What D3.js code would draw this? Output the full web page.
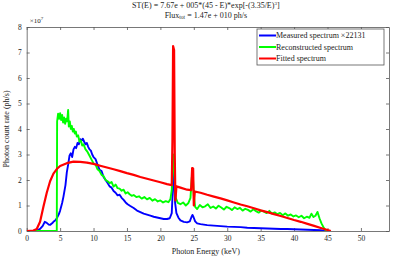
<!DOCTYPE html>
<html>
<head>
<meta charset="utf-8">
<script src="https://cdn.jsdelivr.net/npm/d3@7/dist/d3.min.js"></script>
<style>
  body { margin: 0; background: #fff; }
  svg { display: block; font-family: "Liberation Serif", "DejaVu Serif", serif; }
</style>
</head>
<body>
<div id="chart"></div>
<script>
// values are in units of 1e7 ph/s, energies in keV
var measuredE = [0.5, 1, 1.5, 2, 2.4, 2.7, 3.0, 3.3, 3.5, 3.8, 4.0, 4.3, 4.5, 4.8, 5.0, 5.3, 5.5, 5.8, 6.0, 6.2, 6.4, 6.6, 6.8, 7.0, 7.2, 7.4, 7.6, 7.8, 8.0, 8.2, 8.4, 8.6, 8.8, 9.0, 9.2, 9.4, 9.6, 9.8, 10.0, 10.3, 10.6, 10.9, 11.2, 11.5, 11.8, 12.1, 12.4, 12.7, 13.0, 13.3, 13.6, 13.9, 14.2, 14.5, 14.8, 15.1, 15.5, 16, 16.5, 17, 17.5, 18, 18.5, 19, 19.5, 20, 20.5, 21, 21.4, 21.7, 21.85, 21.95, 22.05, 22.2, 22.4, 22.7, 23, 23.5, 24, 24.4, 24.65, 24.8, 24.95, 25.2, 25.5, 26, 27, 28, 29, 30, 31, 32, 33, 34, 35, 36, 37, 38, 39, 40, 41, 42, 43, 44, 44.8];
var measuredRate = [0, 0, 0.02, 0.08, 0.2, 0.36, 0.32, 0.25, 0.24, 0.3, 0.36, 0.42, 0.5, 0.65, 0.8, 1.1, 1.35, 1.8, 2.3, 2.6, 2.95, 3.05, 2.9, 3.2, 3.3, 3.25, 3.45, 3.4, 3.6, 3.55, 3.62, 3.5, 3.4, 3.45, 3.3, 3.2, 3.15, 3.0, 2.9, 2.82, 2.6, 2.4, 2.35, 2.12, 2.0, 1.88, 1.75, 1.7, 1.57, 1.5, 1.4, 1.42, 1.3, 1.22, 1.12, 1.05, 0.98, 0.9, 0.8, 0.74, 0.68, 0.64, 0.6, 0.56, 0.53, 0.5, 0.47, 0.47, 0.5, 0.7, 1.6, 2.5, 2.3, 1.1, 0.7, 0.52, 0.42, 0.36, 0.34, 0.38, 0.55, 0.63, 0.55, 0.38, 0.3, 0.27, 0.23, 0.21, 0.19, 0.17, 0.16, 0.15, 0.13, 0.12, 0.11, 0.1, 0.09, 0.08, 0.08, 0.07, 0.06, 0.05, 0.04, 0.03, 0];

var reconE = [
    0, 4.5, 4.55, 4.7, 4.85, 5.0, 5.15, 5.3, 5.45, 5.6, 5.75, 5.9, 6.05, 6.2, 6.3, 6.45, 6.6, 6.75, 6.9, 7.05,
    7.2, 7.35, 7.5, 7.7, 7.9, 8.1, 8.3, 8.5, 8.8, 9.1, 9.4, 9.7, 10, 10.3, 10.6, 10.9, 11.2, 11.5, 11.8, 12.1,
    12.4, 12.7, 13, 13.3, 13.6, 13.9, 14.2, 14.5, 14.8, 15.1, 15.4, 15.7, 16, 16.4, 16.8, 17.2, 17.6, 18, 18.4, 18.8,
    19.2, 19.6, 20, 20.4, 20.8, 21.2, 21.5, 21.7, 21.85, 22.0, 22.15, 22.3, 22.6, 23, 23.4, 23.8, 24.2, 24.5, 24.7, 24.85,
    25, 25.2, 25.5, 25.9, 26.3, 26.7, 27.1, 27.5, 27.9, 28.3, 28.7, 29.1, 29.5, 29.9, 30.3, 30.7, 31.1, 31.5, 31.9, 32.3,
    32.7, 33.1, 33.5, 33.9, 34.3, 34.7, 35.1, 35.5, 35.9, 36.3, 36.7, 37.1, 37.5, 37.9, 38.3, 38.7, 39.1, 39.5, 39.9, 40.3,
    40.7, 41.1, 41.5, 41.9, 42.3, 42.6, 42.9, 43.2, 43.5, 43.8, 44.1, 44.5, 44.8];
var reconRate = [
    0, 0, 4.3, 4.6, 4.4, 4.62, 4.35, 4.55, 4.25, 4.45, 4.2, 4.4, 4.3, 4.75, 4.1, 4.3, 4.0, 4.12, 3.9, 4.0,
    3.82, 3.9, 3.7, 3.75, 3.5, 3.55, 3.35, 3.4, 3.2, 3.1, 2.95, 2.8, 2.65, 2.6, 2.42, 2.35, 2.2, 2.15, 2.0, 1.95,
    1.88, 1.92, 1.74, 1.82, 1.68, 1.66, 1.58, 1.62, 1.47, 1.52, 1.44, 1.38, 1.41, 1.33, 1.36, 1.27, 1.33, 1.24, 1.3, 1.19,
    1.25, 1.16, 1.2, 1.12, 1.17, 1.13, 1.25, 1.6, 2.6, 3.0, 2.0, 1.3, 1.1, 1.05, 1.12, 1.0, 1.1, 1.3, 2.1, 2.2,
    1.4, 0.95, 0.86, 1.02, 0.93, 0.97, 1.05, 0.9, 0.96, 0.88, 0.99, 0.92, 0.84, 0.95, 0.9, 0.82, 0.93, 0.86, 0.91, 0.8,
    0.87, 0.83, 0.76, 0.85, 0.78, 0.72, 0.8, 0.76, 0.7, 0.79, 0.68, 0.73, 0.66, 0.71, 0.62, 0.69, 0.6, 0.65, 0.57, 0.61,
    0.54, 0.6, 0.5, 0.56, 0.52, 0.68, 0.55, 0.6, 0.75, 0.5, 0.3, 0.1, 0];

var fittedE = [0, 1, 1.5, 2, 2.5, 3, 3.5, 4, 4.5, 5, 6, 7, 8, 9, 10, 11, 12, 13, 14, 15, 16, 17, 18, 19, 20, 21, 21.7, 21.8, 21.9, 22.05, 22.15, 22.25, 22.4, 23, 24, 24.6, 24.75, 24.9, 25.0, 25.15, 26, 27, 28, 29, 30, 31, 32, 33, 34, 35, 36, 37, 38, 39, 40, 41, 42, 43, 44, 45, 45.5];
var fittedRate = [0, 0.02, 0.08, 0.36, 0.95, 1.5, 1.95, 2.25, 2.43, 2.55, 2.66, 2.72, 2.71, 2.68, 2.63, 2.56, 2.49, 2.42, 2.35, 2.27, 2.2, 2.12, 2.05, 1.98, 1.91, 1.84, 1.8, 3.5, 7.25, 7.1, 3.0, 1.2, 1.75, 1.7, 1.62, 1.6, 2.47, 2.45, 1.0, 1.55, 1.5, 1.42, 1.35, 1.28, 1.2, 1.12, 1.04, 0.97, 0.89, 0.81, 0.74, 0.66, 0.59, 0.51, 0.43, 0.36, 0.28, 0.2, 0.12, 0.04, 0];

var xTicks = [0, 5, 10, 15, 20, 25, 30, 35, 40, 45, 50];
var yTicks = [0, 1, 2, 3, 4, 5, 6, 7, 8];
var seriesNames = ["Measured spectrum \u00d722131", "Reconstructed spectrum", "Fitted spectrum"];
var seriesColors = ["#0000ff", "#00ff00", "#ff0000"];

var width = 393, height = 259;
var margin = { top: 27, left: 26.7, bottom: 28, right: 4 };

var svg = d3.select("#chart")
    .append("svg")
    .attr("width", width)
    .attr("height", height);

var x = d3.scaleLinear().domain([0, 54.2]).range([margin.left, width - margin.right]);
var y = d3.scaleLinear().domain([0, 8]).range([height - margin.bottom, margin.top]);

// axes, MATLAB style ticks pointing inward on all sides
var tickLen = 3;
svg.append("g")
    .attr("transform", "translate(0," + y(0) + ")")
    .call(d3.axisBottom(x).tickValues(xTicks).tickSizeInner(-tickLen).tickSizeOuter(0).tickPadding(5))
    .call(styleAxis);
svg.append("g")
    .attr("transform", "translate(0," + y(8) + ")")
    .call(d3.axisTop(x).tickValues(xTicks).tickSizeInner(-tickLen).tickSizeOuter(0).tickFormat(""))
    .call(styleAxis);
svg.append("g")
    .attr("transform", "translate(" + x(0) + ",0)")
    .call(d3.axisLeft(y).tickValues(yTicks).tickSizeInner(-tickLen).tickSizeOuter(0).tickPadding(5))
    .call(styleAxis);
svg.append("g")
    .attr("transform", "translate(" + x.range()[1] + ",0)")
    .call(d3.axisRight(y).tickValues(yTicks).tickSizeInner(-tickLen).tickSizeOuter(0).tickFormat(""))
    .call(styleAxis);

function styleAxis(g) {
    g.select(".domain").attr("stroke", "#555").attr("stroke-width", 0.8);
    g.selectAll(".tick line").attr("stroke", "#555").attr("stroke-width", 0.8);
    g.selectAll(".tick text")
        .attr("fill", "#222")
        .style("font-family", "Liberation Serif, serif")
        .style("font-size", "7.5px");
}

// lines
svg.append("clipPath").attr("id", "plotClip")
    .append("rect")
    .attr("x", x.range()[0]).attr("y", y(8))
    .attr("width", x.range()[1] - x.range()[0]).attr("height", y(0) - y(8));

var line = d3.line()
    .x(function (d) { return x(d[0]); })
    .y(function (d) { return y(d[1]); });

var series = [
    d3.zip(measuredE, measuredRate),
    d3.zip(reconE, reconRate),
    d3.zip(fittedE, fittedRate)
];

svg.append("g")
    .attr("clip-path", "url(#plotClip)")
    .selectAll("path")
    .data(series)
    .enter()
    .append("path")
    .attr("d", line)
    .attr("fill", "none")
    .attr("stroke", function (d, i) { return seriesColors[i]; })
    .attr("stroke-width", function (d, i) { return i === 2 ? 2.2 : 1.9; })
    .attr("stroke-linejoin", "round");

// exponent label
var expo = svg.append("text")
    .attr("x", x(0) + 3)
    .attr("y", 23)
    .attr("font-size", "7px")
    .attr("fill", "#222");
expo.append("tspan").text("\u00d710");
expo.append("tspan").attr("dy", -3).attr("font-size", "5px").text("7");

// title
var cx = (x.range()[0] + x.range()[1]) / 2 - 2;
var t1 = svg.append("text")
    .attr("x", cx).attr("y", 7.5)
    .attr("text-anchor", "middle")
    .attr("font-size", "8px")
    .attr("fill", "#222");
t1.append("tspan").text("ST(E) = 7.67e + 005*(45 - E)*exp[-(3.35/E)");
t1.append("tspan").attr("dy", -2.5).attr("font-size", "5px").text("3");
t1.append("tspan").attr("dy", 2.5).text("]");

var t2 = svg.append("text")
    .attr("x", cx).attr("y", 17.5)
    .attr("text-anchor", "middle")
    .attr("font-size", "8px")
    .attr("fill", "#222");
t2.append("tspan").text("Flux");
t2.append("tspan").attr("dy", 1.5).attr("font-size", "5.5px").text("tot");
t2.append("tspan").attr("dy", -1.5).text(" = 1.47e + 010 ph/s");

// axis labels
svg.append("text")
    .attr("x", cx).attr("y", 254)
    .attr("text-anchor", "middle")
    .attr("font-size", "8px")
    .attr("fill", "#222")
    .text("Photon Energy (keV)");

svg.append("text")
    .attr("transform", "translate(9," + ((y(0) + y(8)) / 2) + ") rotate(-90)")
    .attr("text-anchor", "middle")
    .attr("font-size", "8px")
    .attr("fill", "#222")
    .text("Photon count rate (ph/s)");

// legend
var legend = svg.append("g").attr("transform", "translate(257,29)");
legend.append("rect")
    .attr("width", 127).attr("height", 36)
    .attr("fill", "#fff")
    .attr("stroke", "#555")
    .attr("stroke-width", 0.8);
var item = legend.selectAll(".item")
    .data(seriesNames)
    .enter()
    .append("g")
    .attr("class", "item")
    .attr("transform", function (d, i) { return "translate(0," + (6.5 + i * 11.5) + ")"; });
item.append("line")
    .attr("x1", 2).attr("x2", 19)
    .attr("stroke", function (d, i) { return seriesColors[i]; })
    .attr("stroke-width", 2);
item.append("text")
    .attr("x", 19).attr("y", 2.7)
    .attr("font-size", "8px")
    .attr("fill", "#222")
    .text(function (d) { return d; });
</script>
</body>
</html>
